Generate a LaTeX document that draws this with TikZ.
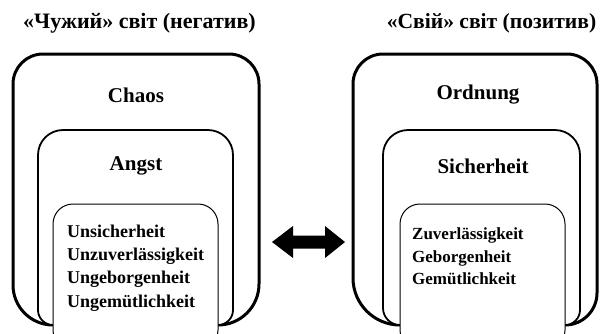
\documentclass[tikz,border=0pt]{standalone}
\usepackage{fontspec}
\setmainfont{Liberation Serif}
\newcommand\opnbox[7]{%
  \draw[#1] (#6,325) .. controls ({#6-0.552*(#6-#2)},325) and (#2,{325-0.448*(#6-#2)}) .. (#2,{325-(#6-#2)})
    -- (#2,{#4+#5}) .. controls (#2,{#4+0.448*#5}) and ({#2+0.448*#5},#4) .. ({#2+#5},#4)
    -- ({#3-#5},#4) .. controls ({#3-0.448*#5},#4) and (#3,{#4+0.448*#5}) .. (#3,{#4+#5})
    -- (#3,{325-(#3-#7)}) .. controls (#3,{325-0.448*(#3-#7)}) and ({#7+0.552*(#3-#7)},325) .. (#7,325);}
\begin{document}
\begin{tikzpicture}[x=1pt,y=-1pt,
  box1/.style={draw, line width=3pt, fill=white},
  box2/.style={draw, line width=1.8pt, fill=white},
  box3/.style={draw, line width=1pt, fill=white, rounded corners=20pt},
  head/.style={font=\fontsize{21}{24}\selectfont\bfseries, inner sep=0pt},
  titleL/.style={font=\fontsize{22}{26}\selectfont\bfseries, inner sep=0pt},
  titleR/.style={font=\fontsize{21.6}{26}\selectfont\bfseries, inner sep=0pt},
  listL/.style={font=\fontsize{18}{23.3}\selectfont\bfseries, align=left, anchor=west, inner sep=0pt},
  listR/.style={font=\fontsize{17}{22.5}\selectfont\bfseries, align=left, anchor=west, inner sep=0pt}]
\useasboundingbox (0,0) rectangle (600,333);
\clip (0,0) rectangle (600,333);
% titles
\node[titleL] (tl) at (139.5,23) {«Чужий» світ (негатив)};
\node[titleR] (tr) at (491.5,23) {«Свій» світ (позитив)};
% left boxes
\opnbox{box1}{13}{259}{54}{30}{53}{218}
\opnbox{box2}{38}{233}{130}{25}{53}{218}
\draw[box3] (53,350) rectangle (218,204);
% right boxes
\opnbox{box1}{353}{597}{54}{30}{400}{565}
\opnbox{box2}{383}{580}{130}{25}{400}{565}
\draw[box3] (400,350) rectangle (565,204);
% headings
\node[head] (chaos) at (136,95) {Chaos};
\node[head] (angst) at (136,166) {Angst};
\node[head] (ord) at (478,95) {Ordnung};
\node[head] (sich) at (483,166) {Sicherheit};
% lists
\node[listL] (ll) at (67,268) {Unsicherheit\\Unzuverlässigkeit\\Ungeborgenheit\\Ungemütlichkeit};
\node[listR] (rl) at (412,256.5) {Zuverlässigkeit\\Geborgenheit\\Gemütlichkeit};
% double arrow
\fill (272,242) -- (293,226) -- (293,235.5) -- (325,235.5) -- (325,226) -- (345,242)
  -- (325,258) -- (325,248.5) -- (293,248.5) -- (293,258) -- cycle;
\end{tikzpicture}
\end{document}
